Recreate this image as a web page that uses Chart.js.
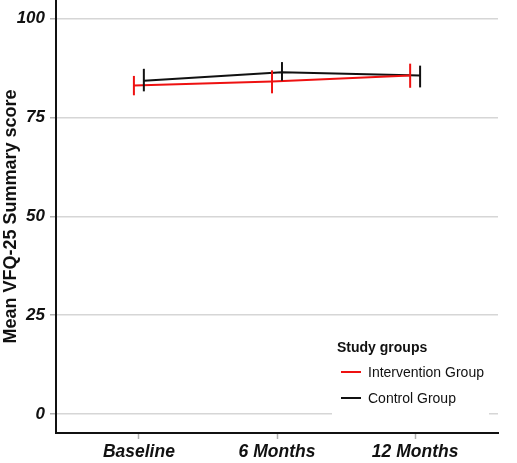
<!DOCTYPE html>
<html>
<head>
<meta charset="utf-8">
<script src="https://cdn.jsdelivr.net/npm/chart.js@4.4.0/dist/chart.umd.min.js"></script>
<style>
html,body{margin:0;padding:0;background:#fff;}
canvas{display:block;}
</style>
</head>
<body>
<canvas id="c" width="517" height="463"></canvas>
<script>
const categories = ["Baseline", "6 Months", "12 Months"];
const yTicks = [0, 25, 50, 75, 100];
const seriesNames = ["Intervention Group", "Control Group"];
const interventionMean = [83.1, 84.1, 85.6];
const interventionLow  = [80.6, 81.1, 82.5];
const interventionHigh = [85.5, 86.9, 88.6];
const controlMean = [84.3, 86.4, 85.6];
const controlLow  = [81.6, 84.3, 82.6];
const controlHigh = [87.3, 89.0, 88.1];

const dodge = 0.036;
const FONT = "'Liberation Sans', Arial, sans-serif";

function pts(mean, off) {
  return mean.map((v, i) => ({x: i + 1 + off, y: v}));
}

const series = [
  {name: seriesNames[0], color: '#ee1111', mean: interventionMean, low: interventionLow, high: interventionHigh, off: -dodge},
  {name: seriesNames[1], color: '#111111', mean: controlMean, low: controlLow, high: controlHigh, off: dodge}
];

const errPlugin = {
  id: 'errbars',
  beforeDatasetsDraw(chart) {
    const ctx = chart.ctx;
    ctx.save();
    ctx.fillStyle = '#ffffff';
    ctx.fillRect(332, 326, 157, 96);
    ctx.restore();
  },
  afterDatasetsDraw(chart) {
    const ctx = chart.ctx;
    const xs = chart.scales.x, ys = chart.scales.y;
    ctx.save();
    series.forEach(s => {
      ctx.strokeStyle = s.color;
      ctx.lineWidth = 2;
      s.mean.forEach((m, i) => {
        const px = xs.getPixelForValue(i + 1 + s.off);
        ctx.beginPath();
        ctx.moveTo(px, ys.getPixelForValue(s.low[i]));
        ctx.lineTo(px, ys.getPixelForValue(s.high[i]));
        ctx.stroke();
      });
    });
    ctx.fillStyle = '#111';
    ctx.textBaseline = 'middle';
    ctx.textAlign = 'left';
    ctx.font = "bold 14px " + FONT;
    ctx.fillText("Study groups", 337, 348);
    ctx.font = "14px " + FONT;
    series.forEach((s, i) => {
      const y = 372 + i * 26;
      ctx.strokeStyle = s.color;
      ctx.lineWidth = 2;
      ctx.beginPath();
      ctx.moveTo(341, y);
      ctx.lineTo(361, y);
      ctx.stroke();
      ctx.fillStyle = '#111';
      ctx.fillText(s.name, 368, y + 1);
    });
    ctx.restore();
  }
};

new Chart(document.getElementById('c'), {
  type: 'line',
  data: {
    datasets: series.map(s => ({
      label: s.name,
      data: pts(s.mean, s.off),
      borderColor: s.color,
      borderWidth: 2,
      pointRadius: 0,
      fill: false,
      tension: 0
    }))
  },
  options: {
    responsive: false,
    animation: false,
    layout: {padding: {left: 0, right: 19, top: 0, bottom: 0}},
    plugins: {legend: {display: false}, tooltip: {enabled: false}},
    scales: {
      x: {
        type: 'linear',
        min: 0.4,
        max: 3.6,
        afterBuildTicks(scale) { scale.ticks = categories.map((c, i) => ({value: i + 1})); },
        afterFit(scale) { scale.height = 30; scale.paddingLeft = 0; scale.paddingRight = 0; },
        grid: {drawOnChartArea: false, drawTicks: true, tickLength: 6, tickColor: '#b0b0b0', tickWidth: 1.5},
        border: {display: true, color: '#111', width: 2},
        ticks: {
          autoSkip: false, maxRotation: 0, padding: 3, color: '#111',
          font: {family: FONT, size: 17.5, weight: 'bold', style: 'italic'},
          callback: (v) => categories[Math.round(v) - 1] || ''
        }
      },
      y: {
        type: 'linear',
        min: -4.8,
        max: 104.7,
        afterBuildTicks(scale) { scale.ticks = yTicks.map(v => ({value: v})); },
        afterFit(scale) { scale.width = 56; scale.paddingTop = 0; scale.paddingBottom = 0; },
        grid: {color: '#d6d6d6', lineWidth: 1.5, drawTicks: true, tickLength: 6, tickColor: '#b0b0b0', tickWidth: 1.5},
        border: {display: true, color: '#111', width: 2},
        title: {
          display: true, text: 'Mean VFQ-25 Summary score', color: '#111',
          font: {family: FONT, size: 18, weight: 'bold'}, padding: {top: 0, bottom: 4}
        },
        ticks: {
          padding: 5, color: '#111',
          font: {family: FONT, size: 17, weight: 'bold', style: 'italic'}
        }
      }
    }
  },
  plugins: [errPlugin]
});
</script>
</body>
</html>
